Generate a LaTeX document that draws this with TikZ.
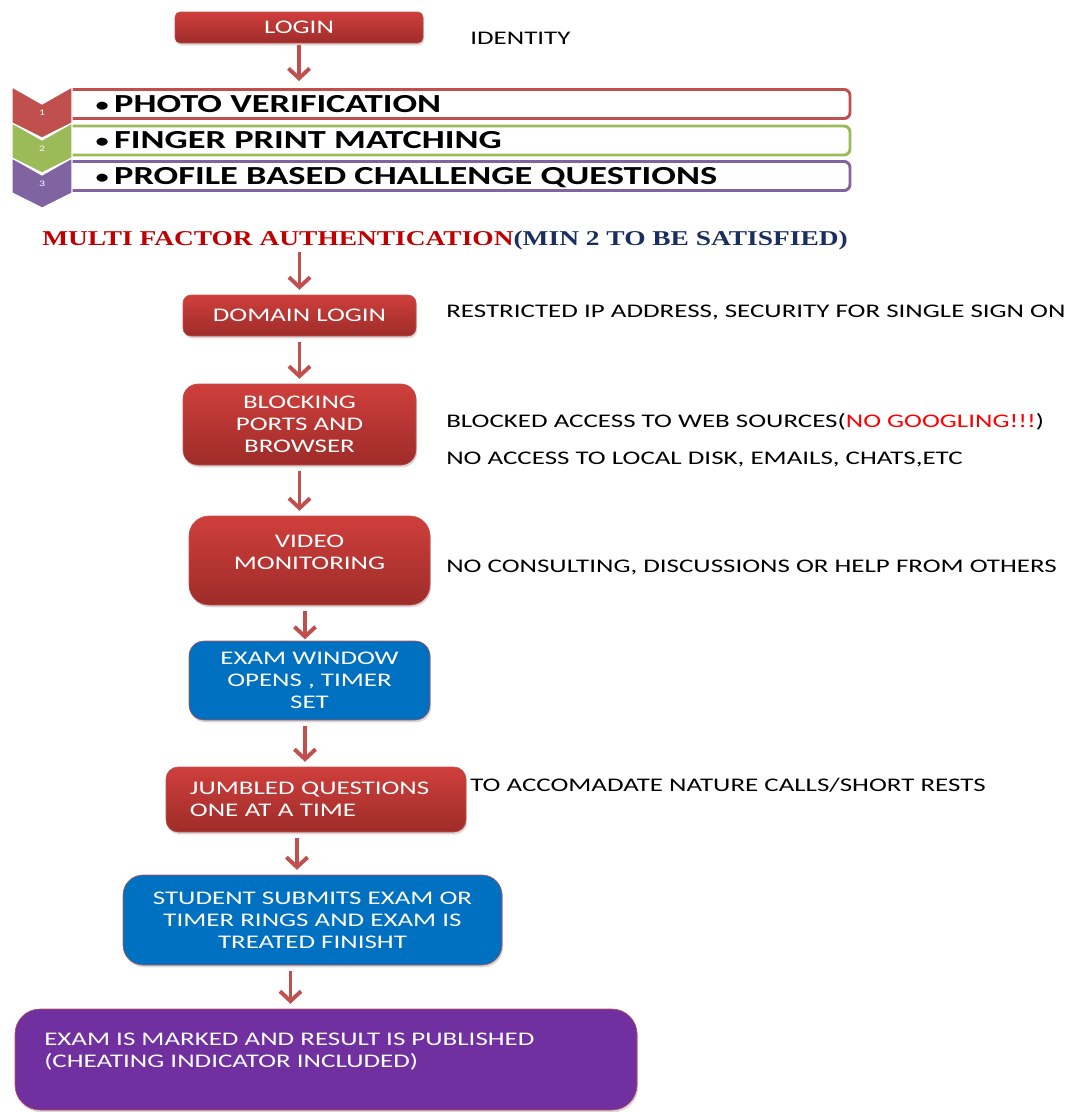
\documentclass[tikz,border=0pt]{standalone}
\usepackage{fontspec}
\setmainfont{Carlito}[FakeStretch=1.4]
\newfontfamily\mfafont{Liberation Serif}[FakeStretch=1.3]
\usetikzlibrary{arrows.meta, shadows}
\definecolor{redtop}{HTML}{CF3F3C}
\definecolor{redbot}{HTML}{9E2C29}
\definecolor{edge}{HTML}{C0504D}
\definecolor{examblue}{HTML}{0070C0}
\definecolor{resultpurple}{HTML}{7030A0}
\definecolor{chevred}{HTML}{C0504D}
\definecolor{chevgreen}{HTML}{9BBB59}
\definecolor{chevpurple}{HTML}{8064A2}
\definecolor{mfared}{HTML}{C00000}
\definecolor{mfablue}{HTML}{1A2F60}
\definecolor{googred}{HTML}{FF0000}
\newcommand{\px}{0.025cm}
\newcommand{\boxfont}{\fontsize{13.7}{15.6}\selectfont}
\newcommand{\itemfont}{\bfseries\fontsize{18.5}{20}\selectfont}
\newcommand{\itembullet}{{\mdseries\fontsize{16}{16}\selectfont\textbullet}\hspace{3pt}}

\begin{document}
\begin{tikzpicture}[
    x=\px, y=-\px,
    box/.style={draw=edge, line width=0.4pt, text=white, font=\boxfont,
        align=center, inner sep=0pt,
        drop shadow={shadow xshift=0.8pt, shadow yshift=-1.6pt, opacity=0.3}},
    redbox/.style={box, top color=redtop, bottom color=redbot},
    bluebox/.style={box, fill=examblue},
    purplebox/.style={box, fill=resultpurple},
    boxtext/.style={text=white, font=\boxfont, align=center, inner sep=0pt},
    note/.style={anchor=base west, font=\boxfont, inner sep=0pt},
    flow/.style={draw=edge, line width=2.8pt, -{Straight Barb[length=7pt,width=15pt]},
        shorten <=4pt, shorten >=3.5pt},
    bar/.style={draw=#1, line width=2.1pt, fill=white, rounded corners=6*\px,
        minimum width=784*\px, minimum height=29*\px, inner sep=0pt},
    chev/.style={fill=#1, draw=white, line width=0.8pt},
    num/.style={text=white, font=\fontsize{6}{7}\selectfont, inner sep=0pt},
    item/.style={anchor=base west, font=\itemfont, inner sep=0pt},
]
\useasboundingbox (0,0) rectangle (1079,1112);
\fill[white] (0,0) rectangle (1079,1112);

% login and identity
\node[redbox, minimum width=248*\px, minimum height=31*\px, rounded corners=5*\px]
    (login) at (299,27.5) {LOGIN};
\node[note] (identity) at (470,44) {IDENTITY};

% identity factors: bars, then chevrons on top
\node[bar=chevred] (bar1) at (458,104) {};
\node[bar=chevgreen] (bar2) at (458,140.5) {};
\node[bar=chevpurple] (bar3) at (458,176) {};
\filldraw[chev=chevpurple] (12,158) -- (42,175) -- (72,158) -- (72,193) -- (42,208) -- (12,193) -- cycle;
\filldraw[chev=chevgreen] (12,123) -- (42,140) -- (72,123) -- (72,158) -- (42,173) -- (12,158) -- cycle;
\filldraw[chev=chevred] (12,87) -- (42,104) -- (72,87) -- (72,123) -- (42,138) -- (12,123) -- cycle;
\node[num] (n1) at (42,113) {1};
\node[num] (n2) at (42,149) {2};
\node[num] (n3) at (42,184) {3};
\node[item] (item1) at (94,112.5) {\itembullet PHOTO VERIFICATION};
\node[item] (item2) at (94,148.5) {\itembullet FINGER PRINT MATCHING};
\node[item] (item3) at (94,184.5) {\itembullet PROFILE BASED CHALLENGE QUESTIONS};

\node[anchor=base west, inner sep=0pt, font=\mfafont\bfseries\fontsize{15}{17}\selectfont]
    (mfa) at (42,245) {\textcolor{mfared}{MULTI FACTOR AUTHENTICATION}\textcolor{mfablue}{(MIN 2 TO BE SATISFIED)}};

% exam steps
\node[redbox, minimum width=233*\px, minimum height=41*\px, rounded corners=8*\px]
    (domain) at (299.5,315.5) {DOMAIN LOGIN};
\node[redbox, minimum width=233*\px, minimum height=81*\px, rounded corners=15*\px]
    (block) at (299.5,424.5) {BLOCKING\\PORTS AND\\BROWSER};
\node[redbox, minimum width=241*\px, minimum height=89*\px, rounded corners=20*\px]
    (video) at (309.5,560.5) {};
\node[boxtext] (videotxt) at (309.5,552) {VIDEO\\MONITORING};
\node[bluebox, minimum width=241*\px, minimum height=79*\px, rounded corners=15*\px]
    (exam) at (309.5,680.5) {EXAM WINDOW\\OPENS , TIMER\\SET};
\node[redbox, minimum width=300*\px, minimum height=65*\px, rounded corners=12*\px,
    align=left, text width=6.3cm]
    (jumbled) at (316,799.5) {JUMBLED QUESTIONS\\ONE AT A TIME};
\node[bluebox, minimum width=379*\px, minimum height=90*\px, rounded corners=20*\px]
    (student) at (312.5,920) {STUDENT SUBMITS EXAM OR\\TIMER RINGS AND EXAM IS\\TREATED FINISHT};
\node[purplebox, minimum width=622*\px, minimum height=101*\px, rounded corners=25*\px]
    (result) at (326,1059.5) {};
\node[boxtext, anchor=west, align=left] (resulttxt) at (44,1052)
    {EXAM IS MARKED AND RESULT IS PUBLISHED\\(CHEATING INDICATOR INCLUDED)};

% notes on the right
\node[note] (restrict) at (446,317) {RESTRICTED IP ADDRESS, SECURITY FOR SINGLE SIGN ON};
\node[note] (web) at (446,427) {BLOCKED ACCESS TO WEB SOURCES(\textcolor{googred}{NO GOOGLING!!!})};
\node[note] (disk) at (446,464) {NO ACCESS TO LOCAL DISK, EMAILS, CHATS,ETC};
\node[note] (consult) at (446,572) {NO CONSULTING, DISCUSSIONS OR HELP FROM OTHERS};
\node[note] (rests) at (470,791) {TO ACCOMADATE NATURE CALLS/SHORT RESTS};

% arrows
\draw[flow, shorten <=1.5pt, shorten >=5pt] (login) -- (login |- bar1.north);
\draw[flow, shorten <=1.5pt] (domain |- mfa.south) -- (domain);
\draw[flow] (domain) -- (block);
\draw[flow] (block) -- (block |- video.north);
\draw[flow, shorten >=1pt] ([xshift=-4.5*\px]video.south) -- ([xshift=-4.5*\px]video.south |- exam.north);
\draw[flow] ([xshift=-4.5*\px]exam.south) -- ([xshift=-4.5*\px]exam.south |- jumbled.north);
\draw[flow] ([xshift=-19*\px]jumbled.south) -- ([xshift=-19*\px]jumbled.south |- student.north);
\draw[flow] ([xshift=-22*\px]student.south) -- ([xshift=-22*\px]student.south |- result.north);
\end{tikzpicture}
\end{document}
